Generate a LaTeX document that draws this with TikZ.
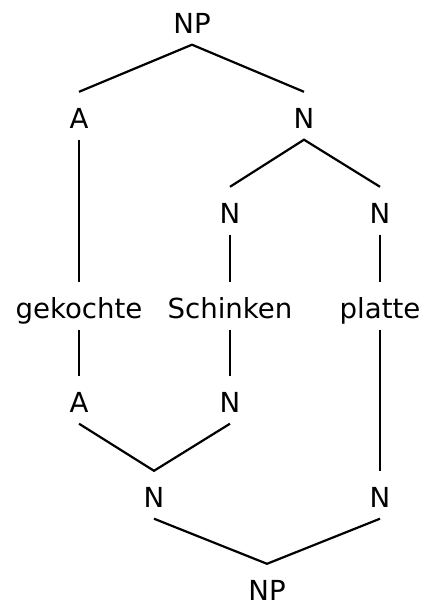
\documentclass[tikz,border=0pt]{standalone}
\usepackage{fontspec}
\setmainfont{DejaVu Sans}
\begin{document}
\begin{tikzpicture}[x=1pt,y=-1pt,
  lab/.style={anchor=base,inner xsep=0pt,inner ysep=0pt,text height=36pt,text depth=11.5pt,font=\fontsize{27.6}{30}\selectfont},
  edge/.style={line width=2.2pt}]
\useasboundingbox (0,0) rectangle (426,613);
\node[lab] (np1) at (192,33) {NP};
\node[lab] (a1) at (79,128) {A};
\node[lab] (n1) at (304,128) {N};
\node[lab] (n2) at (230,223) {N};
\node[lab] (n3) at (380,223) {N};
\node[lab] (w1) at (79,318) {gekochte};
\node[lab] (w2) at (230,318) {Schinken};
\node[lab] (w3) at (380,318) {platte};
\node[lab] (a2) at (79,412) {A};
\node[lab] (n4) at (230,412) {N};
\node[lab] (n5) at (154,507) {N};
\node[lab] (n6) at (380,507) {N};
\node[lab] (np2) at (267,600) {NP};
\draw[edge] (a1.north) -- (np1.south) -- (n1.north);
\draw[edge] (n2.north) -- (n1.south) -- (n3.north);
\draw[edge] (a1.south) -- (w1.north);
\draw[edge] (n2.south) -- (w2.north);
\draw[edge] (n3.south) -- (w3.north);
\draw[edge] (w1.south) -- (a2.north);
\draw[edge] (w2.south) -- (n4.north);
\draw[edge] (w3.south) -- (n6.north);
\draw[edge] (a2.south) -- (n5.north) -- (n4.south);
\draw[edge] (n5.south) -- (np2.north) -- (n6.south);
\end{tikzpicture}
\end{document}
